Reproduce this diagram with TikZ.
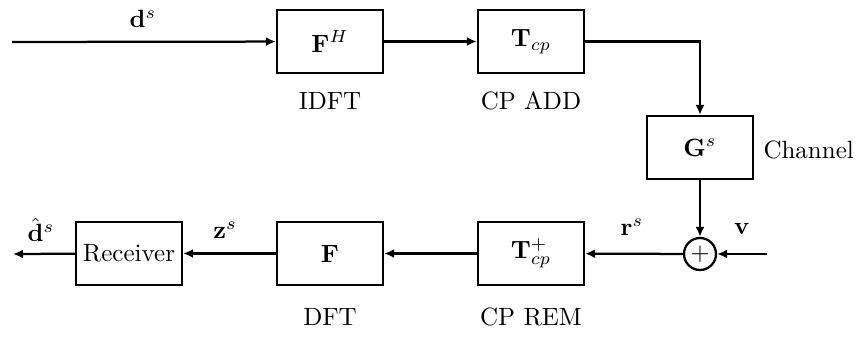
\documentclass[tikz,border=0pt]{standalone}
\usetikzlibrary{arrows.meta}
\begin{document}
\begin{tikzpicture}[x=0.4pt,y=-0.4pt,
  block/.style={draw,line width=0.9pt,minimum width=42.4pt,minimum height=25.2pt,inner sep=0pt},
  adder/.style={draw,line width=0.9pt,circle,minimum size=12.8pt,inner sep=0pt},
  sig/.style={line width=0.9pt,-{Latex[length=4pt,width=3.6pt]}},
  note/.style={inner sep=0pt}]
\useasboundingbox (0,0) rectangle (861,338);
% transmitter chain
\coordinate (in) at (12,42);
\node[block] (fh) at (330,41.5) {$\mathbf{F}^H$};
\node[block] (tcp) at (531,41.5) {$\mathbf{T}_{cp}$};
\coordinate (turn) at (700,41.5);
\node[block] (g) at (700,147.5) {$\mathbf{G}^s$};
% receiver chain
\node[adder] (sum) at (700,254) {$+$};
\coordinate (noise) at (767,254);
\node[block] (tcpr) at (531,253.5) {$\mathbf{T}_{cp}^{+}$};
\node[block] (f) at (330,253.5) {$\mathbf{F}$};
\node[block] (rx) at (129,253.5) {Receiver};
\coordinate (out) at (13,254);
% connectors
\draw[sig] (in) -- (fh);
\draw[sig] (fh) -- (tcp);
\draw[sig] (tcp.east) -- (turn) -- (g.north);
\draw[sig] (g) -- (sum);
\draw[sig] (noise) -- (sum);
\draw[sig] (sum) -- (tcpr);
\draw[sig] (tcpr) -- (f);
\draw[sig] (f) -- (rx);
\draw[sig] (rx) -- (out);
% signal labels
\node[note] (lds) at (143,19) {$\mathbf{d}^s$};
\node[note] (lhat) at (41,230) {$\hat{\mathbf{d}}^s$};
\node[note] (lzs) at (225,230) {$\mathbf{z}^s$};
\node[note] (lrs) at (632,227) {$\mathbf{r}^s$};
\node[note] (lv) at (742,229) {$\mathbf{v}$};
% block captions
\node[note] (cidft) at (330,101) {IDFT};
\node[note] (cadd) at (531,101) {CP ADD};
\node[note,anchor=west] (cch) at (763,150) {Channel};
\node[note] (cdft) at (330,317) {DFT};
\node[note] (crem) at (531,317) {CP REM};
\end{tikzpicture}
\end{document}
